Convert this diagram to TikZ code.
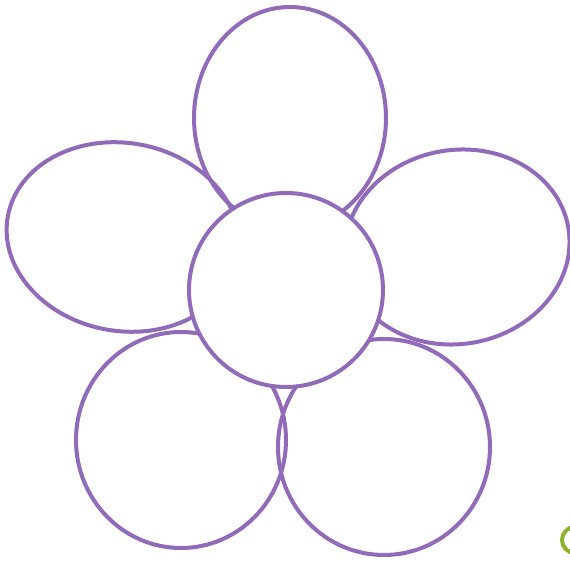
\documentclass[tikz,border=0pt]{standalone}
\usetikzlibrary{positioning}
\definecolor{petalc}{RGB}{145,106,186}
\definecolor{leafc}{RGB}{140,178,48}

\begin{document}
\begin{tikzpicture}[x=0.5pt,y=-0.5pt,
          petal/.style={draw=petalc,line width=2pt},
          core/.style={circle,draw=petalc,fill=white,line width=2pt,inner sep=0pt,minimum size=97pt}]
        \useasboundingbox (0,0) rectangle (570,561);
        \foreach \cx/\cy/\rx/\ry/\ang in {290/118/96/111/0,123/237/117/94/-10,457/247/113/97/10,181/440/105/108/0,384/447/106/108/0}
          \draw[petal,rotate around={\ang:(\cx,\cy)}] (\cx,\cy) ellipse [x radius=\rx,y radius=\ry];
        \node[core] (centre) at (286,290) {};
        \draw[leafc,line width=2pt] (575,540) circle [radius=13];
      \end{tikzpicture}
\end{document}
